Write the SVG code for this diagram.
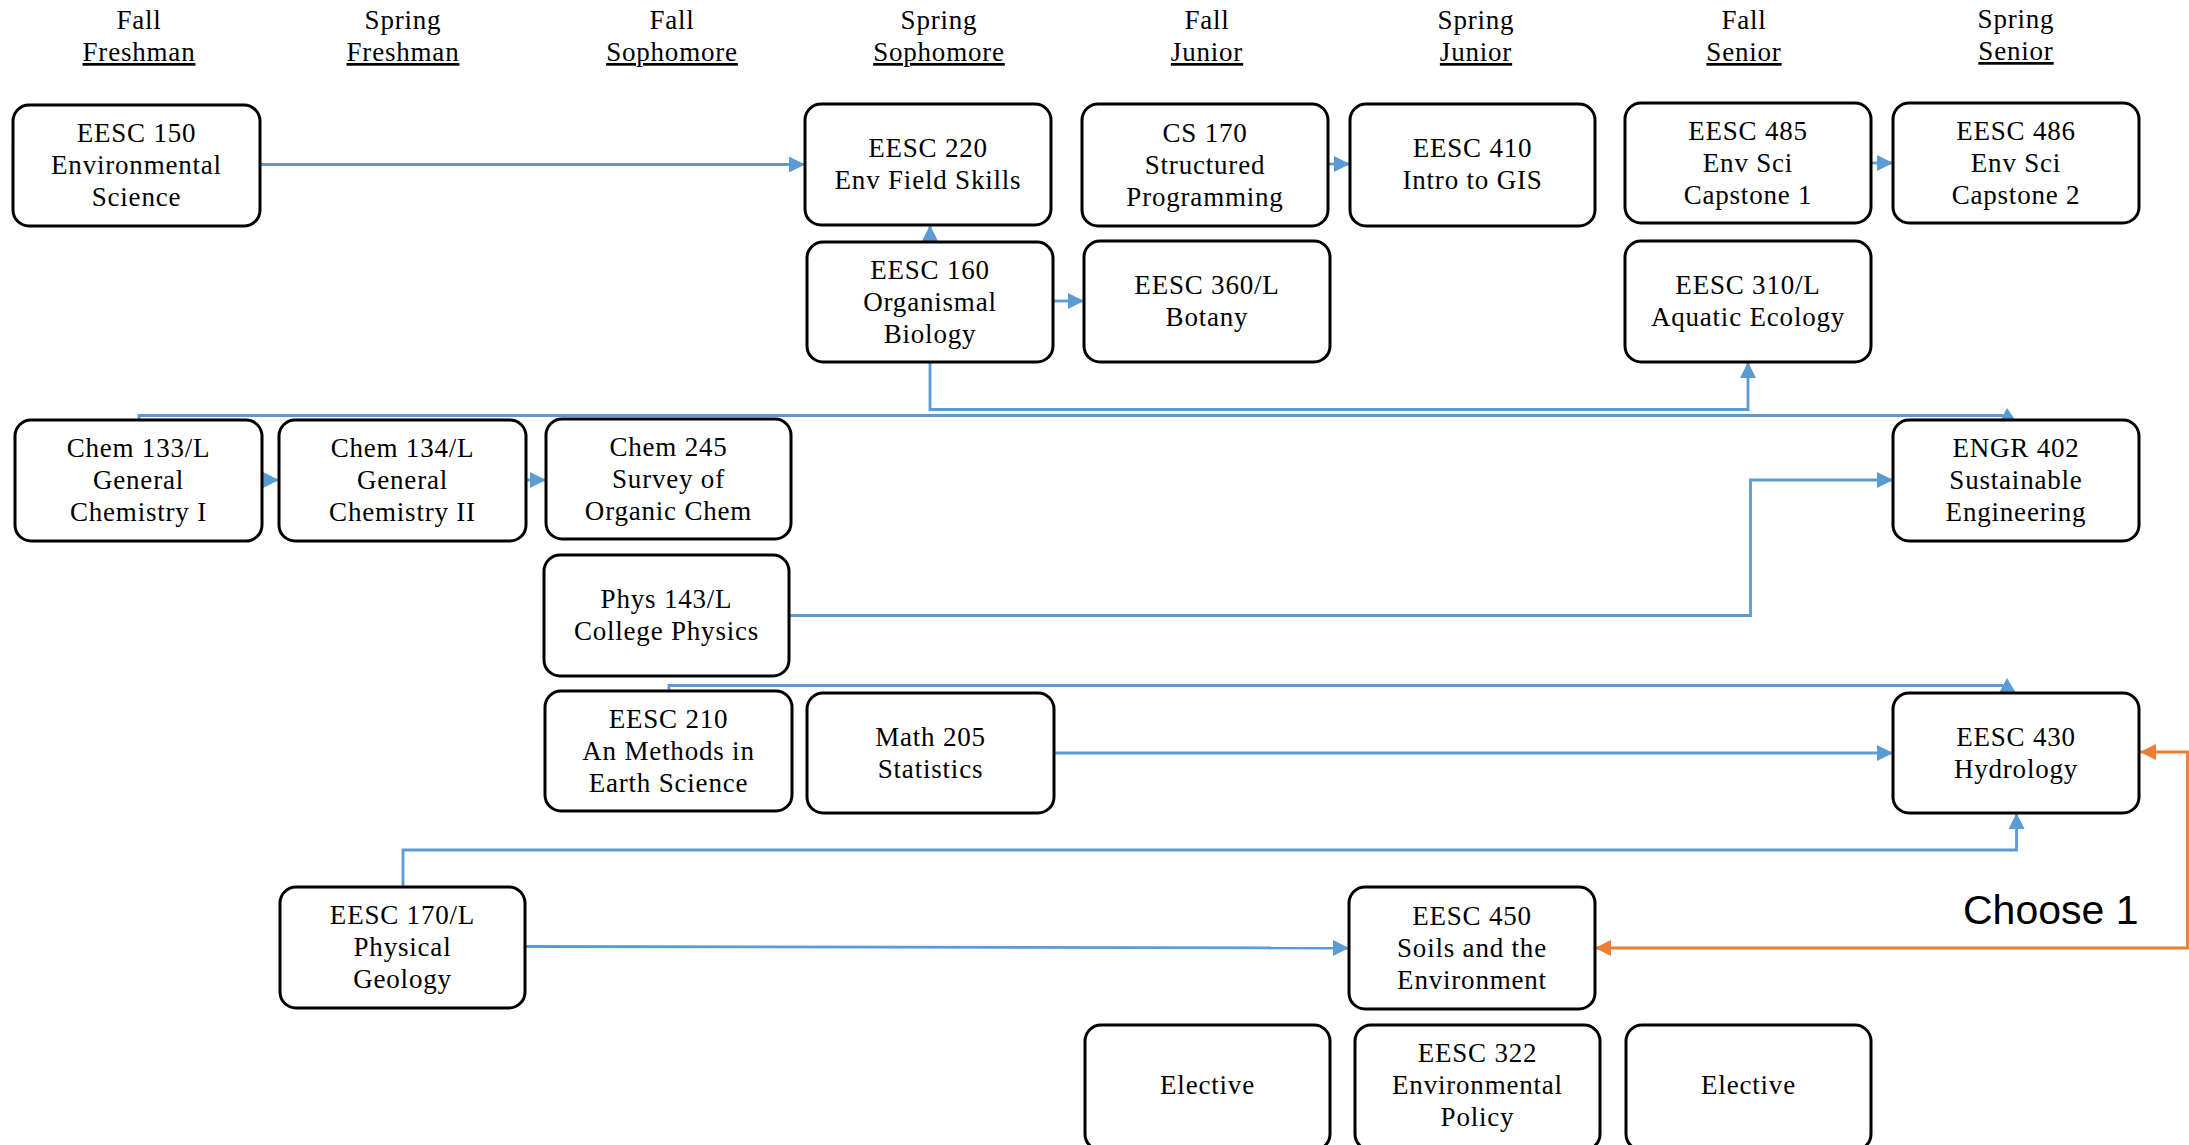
<svg xmlns="http://www.w3.org/2000/svg" width="2189" height="1145" viewBox="0 0 2189 1145">
<defs>
<style>
.bg{fill:#ffffff}
.node rect{fill:#ffffff;stroke:#000000;stroke-width:3}
.node text, .hdr text{font-family:"Liberation Serif","Times New Roman",serif;font-size:27px;letter-spacing:0.8px;fill:#000000;text-anchor:middle}
.hdr .u{text-decoration:underline}
.c{fill:none;stroke:#5B9BD5;stroke-width:2.8}
.o{fill:none;stroke:#ED7D31;stroke-width:2.8}
.ah{fill:#5B9BD5}
.choose{font-family:"Liberation Sans",Arial,sans-serif;font-size:41px;fill:#000000}
</style>
<marker id="ab" markerUnits="userSpaceOnUse" markerWidth="16" markerHeight="16" viewBox="0 0 16 16" refX="16" refY="8" orient="auto">
<path d="M0,0 L16,8 L0,16 Z" fill="#5B9BD5"/>
</marker>
<marker id="ao" markerUnits="userSpaceOnUse" markerWidth="16" markerHeight="16" viewBox="0 0 16 16" refX="16" refY="8" orient="auto-start-reverse">
<path d="M0,0 L16,8 L0,16 Z" fill="#ED7D31"/>
</marker>
</defs>
<rect class="bg" x="0" y="0" width="2189" height="1145"/>

<g id="headers" class="hdr">
<text x="139" y="29">Fall</text><text class="u" x="139" y="61">Freshman</text>
<text x="403" y="29">Spring</text><text class="u" x="403" y="61">Freshman</text>
<text x="672" y="29">Fall</text><text class="u" x="672" y="61">Sophomore</text>
<text x="939" y="29">Spring</text><text class="u" x="939" y="61">Sophomore</text>
<text x="1207" y="29">Fall</text><text class="u" x="1207" y="61">Junior</text>
<text x="1476" y="29">Spring</text><text class="u" x="1476" y="61">Junior</text>
<text x="1744" y="29">Fall</text><text class="u" x="1744" y="61">Senior</text>
<text x="2016" y="28">Spring</text><text class="u" x="2016" y="60">Senior</text>
</g>

<g id="connectors">
<path class="c" d="M260,164.5 L805,164.5" marker-end="url(#ab)"/>
<path class="c" d="M930,242 L930,225" marker-end="url(#ab)"/>
<path class="c" d="M1053,301 L1084,301" marker-end="url(#ab)"/>
<path class="c" d="M1328,164 L1350,164" marker-end="url(#ab)"/>
<path class="c" d="M1871,163 L1893,163" marker-end="url(#ab)"/>
<path class="c" d="M930,362 L930,409.5 L1748,409.5 L1748,362" marker-end="url(#ab)"/>
<path class="c" d="M139,420 L139,415.5 L2003,415.5"/>
<polygon class="ah" points="2007,408 2016,421 1999,423"/>
<path class="c" d="M262,480 L279,480" marker-end="url(#ab)"/>
<path class="c" d="M526,480 L546,480" marker-end="url(#ab)"/>
<path class="c" d="M789,615.5 L1750.5,615.5 L1750.5,480 L1893,480" marker-end="url(#ab)"/>
<path class="c" d="M669,691 L669,685.5 L2003,685.5"/>
<polygon class="ah" points="2007,678 2016,693 1999,693"/>
<path class="c" d="M1054,753 L1893,753" marker-end="url(#ab)"/>
<path class="c" d="M403,887 L403,850 L2016.5,850 L2016.5,813" marker-end="url(#ab)"/>
<path class="c" d="M525,946.5 L1349,948" marker-end="url(#ab)"/>
<path class="o" d="M2140,752 L2187.5,752 L2187.5,948 L1595,948" marker-start="url(#ao)" marker-end="url(#ao)"/>
</g>

<text class="choose" x="1963" y="924">Choose 1</text>

<g id="eesc150" class="node"><rect x="13" y="105" width="247" height="121" rx="16"/>
<text x="136.5" y="142">EESC 150</text><text x="136.5" y="174">Environmental</text><text x="136.5" y="206">Science</text></g>

<g id="eesc220" class="node"><rect x="805" y="104" width="246" height="121" rx="16"/>
<text x="928" y="157">EESC 220</text><text x="928" y="189">Env Field Skills</text></g>

<g id="cs170" class="node"><rect x="1082" y="104" width="246" height="122" rx="16"/>
<text x="1205" y="142">CS 170</text><text x="1205" y="174">Structured</text><text x="1205" y="206">Programming</text></g>

<g id="eesc410" class="node"><rect x="1350" y="104" width="245" height="122" rx="16"/>
<text x="1472.5" y="157">EESC 410</text><text x="1472.5" y="189">Intro to GIS</text></g>

<g id="eesc485" class="node"><rect x="1625" y="103" width="246" height="120" rx="16"/>
<text x="1748" y="140">EESC 485</text><text x="1748" y="172">Env Sci</text><text x="1748" y="204">Capstone 1</text></g>

<g id="eesc486" class="node"><rect x="1893" y="103" width="246" height="120" rx="16"/>
<text x="2016" y="140">EESC 486</text><text x="2016" y="172">Env Sci</text><text x="2016" y="204">Capstone 2</text></g>

<g id="eesc160" class="node"><rect x="807" y="242" width="246" height="120" rx="16"/>
<text x="930" y="279">EESC 160</text><text x="930" y="311">Organismal</text><text x="930" y="343">Biology</text></g>

<g id="eesc360" class="node"><rect x="1084" y="241" width="246" height="121" rx="16"/>
<text x="1207" y="294">EESC 360/L</text><text x="1207" y="326">Botany</text></g>

<g id="eesc310" class="node"><rect x="1625" y="241" width="246" height="121" rx="16"/>
<text x="1748" y="294">EESC 310/L</text><text x="1748" y="326">Aquatic Ecology</text></g>

<g id="chem133" class="node"><rect x="15" y="420" width="247" height="121" rx="16"/>
<text x="138.5" y="457">Chem 133/L</text><text x="138.5" y="489">General</text><text x="138.5" y="521">Chemistry I</text></g>

<g id="chem134" class="node"><rect x="279" y="420" width="247" height="121" rx="16"/>
<text x="402.5" y="457">Chem 134/L</text><text x="402.5" y="489">General</text><text x="402.5" y="521">Chemistry II</text></g>

<g id="chem245" class="node"><rect x="546" y="419" width="245" height="120" rx="16"/>
<text x="668.5" y="456">Chem 245</text><text x="668.5" y="488">Survey of</text><text x="668.5" y="520">Organic Chem</text></g>

<g id="engr402" class="node"><rect x="1893" y="420" width="246" height="121" rx="16"/>
<text x="2016" y="457">ENGR 402</text><text x="2016" y="489">Sustainable</text><text x="2016" y="521">Engineering</text></g>

<g id="phys143" class="node"><rect x="544" y="555" width="245" height="121" rx="16"/>
<text x="666.5" y="608">Phys 143/L</text><text x="666.5" y="640">College Physics</text></g>

<g id="eesc210" class="node"><rect x="545" y="691" width="247" height="120" rx="16"/>
<text x="668.5" y="728">EESC 210</text><text x="668.5" y="760">An Methods in</text><text x="668.5" y="792">Earth Science</text></g>

<g id="math205" class="node"><rect x="807" y="693" width="247" height="120" rx="16"/>
<text x="930.5" y="746">Math 205</text><text x="930.5" y="778">Statistics</text></g>

<g id="eesc430" class="node"><rect x="1893" y="693" width="246" height="120" rx="16"/>
<text x="2016" y="746">EESC 430</text><text x="2016" y="778">Hydrology</text></g>

<g id="eesc170" class="node"><rect x="280" y="887" width="245" height="121" rx="16"/>
<text x="402.5" y="924">EESC 170/L</text><text x="402.5" y="956">Physical</text><text x="402.5" y="988">Geology</text></g>

<g id="eesc450" class="node"><rect x="1349" y="887" width="246" height="122" rx="16"/>
<text x="1472" y="925">EESC 450</text><text x="1472" y="957">Soils and the</text><text x="1472" y="989">Environment</text></g>

<g id="elective1" class="node"><rect x="1085" y="1025" width="245" height="125" rx="16"/>
<text x="1207.5" y="1094">Elective</text></g>

<g id="eesc322" class="node"><rect x="1355" y="1025" width="245" height="125" rx="16"/>
<text x="1477.5" y="1062">EESC 322</text><text x="1477.5" y="1094">Environmental</text><text x="1477.5" y="1126">Policy</text></g>

<g id="elective2" class="node"><rect x="1626" y="1025" width="245" height="125" rx="16"/>
<text x="1748.5" y="1094">Elective</text></g>
</svg>
